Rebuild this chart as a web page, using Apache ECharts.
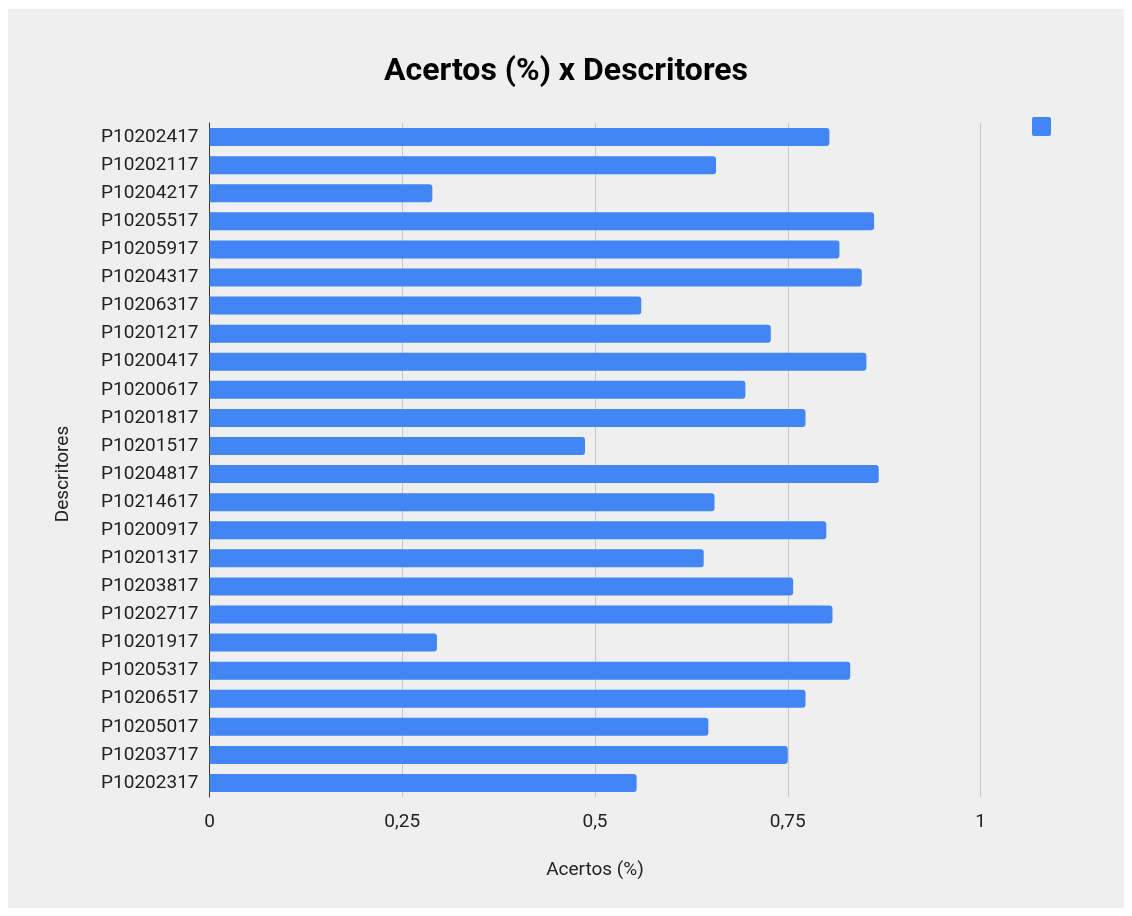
<!DOCTYPE html>
<html><head><meta charset="utf-8">
<script src="https://cdn.jsdelivr.net/npm/echarts@6/dist/echarts.min.js"></script>
<style>
html,body{margin:0;padding:0;background:#fff;width:1132px;height:916px;overflow:hidden}
#c{position:absolute;left:8px;top:9px;width:1116px;height:899px;background:#efefef}
</style></head><body><div id="c"></div>
<script>
const categories = ["P10202417","P10202117","P10204217","P10205517","P10205917","P10204317","P10206317","P10201217","P10200417","P10200617","P10201817","P10201517","P10204817","P10214617","P10200917","P10201317","P10203817","P10202717","P10201917","P10205317","P10206517","P10205017","P10203717","P10202317"];
const values = [0.804,0.657,0.289,0.862,0.817,0.846,0.560,0.728,0.852,0.695,0.773,0.487,0.868,0.655,0.800,0.641,0.757,0.808,0.295,0.831,0.773,0.647,0.750,0.554];
const xTicks = {0:"0",0.25:"0,25",0.5:"0,5",0.75:"0,75",1:"1"};
const seriesName = " ";
const chart = echarts.init(document.getElementById('c'), null, {renderer:'canvas'});
chart.setOption({
  backgroundColor:'#efefef',
  animation:false,
  textStyle:{fontFamily:'Roboto'},
  title:{text:'Acertos (%) x Descritores',left:'center',top:42,
    textStyle:{fontFamily:'Roboto',fontSize:32,fontWeight:'bold',color:'#000'}},
  legend:{data:[seriesName],left:1019,top:103,itemWidth:19,itemHeight:19,
    icon:'path://M2,0H17Q19,0 19,2V17Q19,19 17,19H2Q0,19 0,17V2Q0,0 2,0Z',
    formatter:()=>'',itemGap:0,textStyle:{fontSize:1}},
  grid:{left:201.5,width:771,top:114,height:674,containLabel:false},
  xAxis:{type:'value',min:0,max:1,interval:0.25,
    name:'Acertos (%)',nameLocation:'middle',nameGap:64,
    nameTextStyle:{fontFamily:'Roboto',fontSize:19,color:'#222'},
    axisLine:{show:false},axisTick:{show:false},
    axisLabel:{fontFamily:'Roboto',fontSize:19,color:'#222',margin:16,formatter:v=>xTicks[v]!==undefined?xTicks[v]:String(v)},
    splitLine:{show:true,lineStyle:{color:'#c8c8c8',width:1}}},
  yAxis:{type:'category',data:categories,inverse:true,
    name:'Descritores',nameLocation:'middle',nameGap:137,nameRotate:90,
    nameTextStyle:{fontFamily:'Roboto',fontSize:19,color:'#222',padding:[0,28,0,0]},
    axisLine:{show:true,lineStyle:{color:'#333',width:1}},axisTick:{show:false},
    axisLabel:{fontFamily:'Roboto',fontSize:19,color:'#222',margin:11},
    splitLine:{show:false}},
  series:[{name:seriesName,type:'bar',data:values,barWidth:18,
    itemStyle:{color:'#4285f4',borderRadius:[0,3,3,0]}}]
});
</script></body></html>
